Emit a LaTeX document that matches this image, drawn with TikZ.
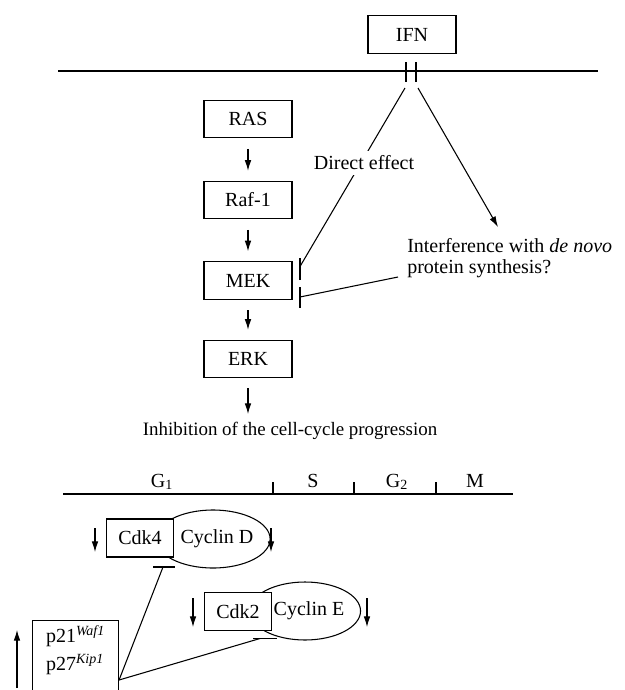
\documentclass[tikz,border=0pt]{standalone}
\usepackage{fontspec}
\setmainfont{Liberation Serif}
\usetikzlibrary{arrows.meta,shapes.geometric}

\tikzset{
  sigbox/.style={draw, line width=0.8pt, fill=white, minimum width=66pt, minimum height=28pt, inner sep=0pt},
  cdkbox/.style={draw, line width=0.8pt, fill=white, minimum width=50pt, minimum height=28.5pt, inner sep=0pt},
  cyclin/.style={draw, ellipse, line width=0.8pt, minimum width=75pt, minimum height=43.5pt, inner sep=0pt},
  act/.style={line width=0.8pt, -{Latex[length=8pt,width=5pt]}},
  inh/.style={line width=0.8pt},
}

\begin{document}
\begin{tikzpicture}[x=0.75pt,y=0.75pt,yscale=-1,xscale=1,
  every node/.style={font=\fontsize{15}{16}\selectfont}]
\useasboundingbox (0,0) rectangle (625,690);
\clip (0,0) rectangle (625,690);

%Membrane
\draw [inh] (58,71) -- (598,71);
% IFN and the two bars through the membrane
\node [sigbox] (ifn) at (412,34.5) {IFN};
\draw [inh] (406,62) -- (406,82);
\draw [inh] (416,62) -- (416,82);
\coordinate (chl) at (405,88);
\coordinate (chr) at (418,88);

% Kinase cascade
\node [sigbox] (ras) at (248,119) {RAS};
\node [sigbox] (raf) at (248,200) {Raf-1};
\node [sigbox] (mek) at (248,280.5) {MEK};
\node [sigbox] (erk) at (248,359) {ERK};
% Text Node
\node [font=\fontsize{14.2}{16}\selectfont, inner sep=0pt] (inhib) at (290,431) {Inhibition of the cell-cycle progression};

\draw [act, shorten <=8pt, shorten >=7.5pt] (ras) -- (raf);
\draw [act, shorten <=8pt, shorten >=7.5pt] (raf) -- (mek);
\draw [act, shorten <=8pt, shorten >=7.5pt] (mek) -- (erk);
\draw [act, shorten <=7.5pt, shorten >=6pt] (erk) -- (erk |- inhib.north);

%Inhibition bars at MEK
\coordinate (meka) at (300,266.5);
\coordinate (mekb) at (300,297);
\draw [inh] (300,258) -- (300,280);
\draw [inh] (300,287) -- (300,308);

%Straight Lines
\draw [inh] (chl) -- (meka);
\coordinate (inttip) at (498,227);
\draw [act] (chr) -- (inttip);
% Text Node
\node [fill=white, inner sep=4pt] (direct) at (364,163) {Direct effect};
% Text Node
\node [anchor=north west, align=left, inner sep=0pt] (interf) at (407,238) {Interference with \textit{de novo}\\protein synthesis?};
\coordinate (intend) at (398,277);
\draw [inh] (intend) -- (mekb);

%Cell cycle line
\draw [inh] (63,494) -- (513,494);
\foreach \tx in {273,354,436}
  \draw [inh] (\tx,482) -- (\tx,494);
\node [anchor=base] (gone) at (162,487) {G\textsubscript{1}};
\node [anchor=base] (sph) at (313,487) {S};
\node [anchor=base] (gtwo) at (397,487) {G\textsubscript{2}};
\node [anchor=base] (mph) at (475,487) {M};

% Cdk4 / Cyclin D
\node [cyclin] (cycd) at (213,539) {\hspace{6pt}Cyclin D};
\node [cdkbox] (cdk4) at (140,538) {Cdk4};
\draw [act] (95,528) -- (95,552);
\draw [act] (271,528) -- (271,552);
% Cdk2 / Cyclin E
\node [cyclin] (cyce) at (305,611) {\hspace{6pt}Cyclin E};
\node [cdkbox] (cdk2) at (238,611.5) {Cdk2};
\draw [act] (193,598) -- (193,627);
\draw [act] (367,598) -- (367,627);

% p21 / p27
\node [draw, line width=0.8pt, anchor=north west, inner xsep=7.5pt, inner ysep=4.5pt,
  minimum width=64.5pt, text height=12pt, text depth=48pt, font=\fontsize{15}{21}\selectfont]
  (pck) at (32,620) {\vtop{\hbox{p21\textsuperscript{\itshape Waf1}}\hbox{p27\textsuperscript{\itshape Kip1}}}};
\draw [act] (17,688) -- (17,630);
\coordinate (pout) at ([yshift=45pt]pck.north east);

%Inhibition of the Cdk complexes
\coordinate (kfour) at (163,567);
\coordinate (ktwo) at (260,638.5);
\draw [inh] (153,567) -- (175,567);
\draw [inh] (253,638.5) -- (277,638.5);
\draw [inh] (pout) -- (kfour);
\draw [inh] (pout) -- (ktwo);

\end{tikzpicture}
\end{document}
